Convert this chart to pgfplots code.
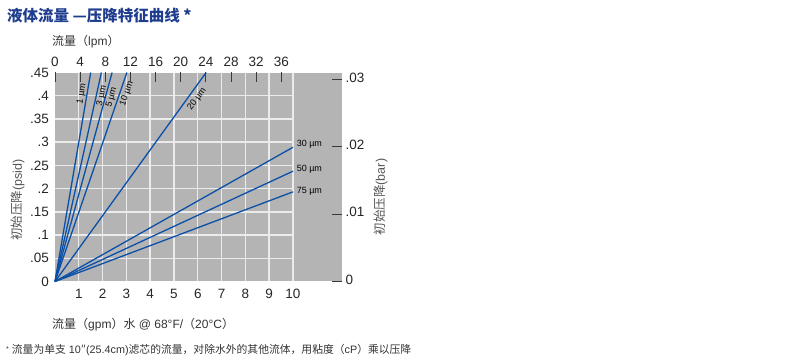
\documentclass[border=0pt]{standalone}
\usepackage{fontspec}
\setmainfont{Liberation Sans}
\newfontfamily\cjk{Noto Sans CJK SC}
\usepackage{pgfplots}
\pgfplotsset{compat=1.18}
\definecolor{bgg}{HTML}{B4B4B4}
\definecolor{ln}{HTML}{0A50A8}
\definecolor{ttl}{HTML}{1F3D8F}
\definecolor{grd}{HTML}{EBEBEB}
\definecolor{tk}{HTML}{3A3A3A}
\definecolor{lbl}{HTML}{333333}
\definecolor{ylbl}{HTML}{555555}
\newcommand{\tickfont}{\fontsize{13.5}{16}\selectfont}
\newcommand{\smallfont}{\fontsize{9}{10}\selectfont}
\begin{document}
\begin{tikzpicture}
\useasboundingbox (0pt,0pt) rectangle (790pt,364pt);
% title
\node[anchor=west, text=ttl, inner sep=0pt, font=\cjk\bfseries\fontsize{15.5}{18}\selectfont] at (7pt,348pt) {液体流量 —压降特征曲线 *};
% axis labels
\node[anchor=west, inner sep=0pt, text=lbl, font=\fontsize{12}{14}\selectfont] at (52pt,322pt) {{\cjk 流量（}lpm{\cjk ）}};
\node[anchor=west, inner sep=0pt, text=lbl, font=\fontsize{12}{14}\selectfont] at (52pt,39pt) {{\cjk 流量（}gpm{\cjk ）水} @ 68°F/{\cjk （}20°C{\cjk ）}};
\node[anchor=west, inner sep=0pt, text=lbl, font=\fontsize{10.8}{12}\selectfont] at (6pt,14pt) {\raisebox{2pt}{\scriptsize *} {\cjk 流量为单支} 10{\cjk ″}(25.4cm){\cjk 滤芯的流量，对除水外的其他流体，用粘度（}cP{\cjk ）乘以压降}};
\node[rotate=90, inner sep=0pt, text=ylbl, font=\fontsize{12.5}{14}\selectfont] at (18pt,164pt) {{\cjk 初始压降}(psid)};
\node[rotate=90, inner sep=0pt, text=ylbl, font=\fontsize{12.5}{14}\selectfont] at (381pt,167pt) {{\cjk 初始压降}(bar)};

% main axis
\begin{axis}[
  at={(55pt,82.5pt)}, anchor=south west,
  scale only axis, width=287pt, height=209pt,
  xmin=0, xmax=12.06, ymin=0, ymax=0.45,
  axis background/.style={fill=bgg},
  axis line style={draw=none},
  xtick={1,2,3,4,5,6,7,8,9,10},
  xticklabels={1,2,3,4,5,6,7,8,9,10},
  ytick={0,0.05,0.1,0.15,0.2,0.25,0.3,0.35,0.4,0.45},
  yticklabels={0,.05,.1,.15,.2,.25,.3,.35,.4,.45},
  xtick pos=bottom, ytick pos=left,
  major tick length=0pt,
  tick label style={font=\tickfont, text=black!85},
  xticklabel style={yshift=-4pt},
  yticklabel style={xshift=-2.5pt},
  clip=false,
]
\pgfplotsinvokeforeach{0.05,0.1,0.15,0.2,0.25,0.3,0.35,0.4}{
  \draw[grd, line width=1.4pt] (axis cs:0,#1) -- (axis cs:10,#1);
}
\pgfplotsinvokeforeach{1,2,3,4,5,6,7,8,9,10}{
  \draw[grd, line width=1.4pt] (axis cs:#1,0) -- (axis cs:#1,0.45);
}
% filter curves (psid vs gpm)
\addplot[ln, line width=1.3pt] coordinates {(0,0) (1.50,0.45)};
\addplot[ln, line width=1.3pt] coordinates {(0,0) (1.95,0.45)};
\addplot[ln, line width=1.3pt] coordinates {(0,0) (2.40,0.45)};
\addplot[ln, line width=1.3pt] coordinates {(0,0) (3.02,0.45)};
\addplot[ln, line width=1.3pt] coordinates {(0,0) (6.35,0.45)};
\addplot[ln, line width=1.3pt] coordinates {(0,0) (10,0.289)};
\addplot[ln, line width=1.3pt] coordinates {(0,0) (10,0.2375)};
\addplot[ln, line width=1.3pt] coordinates {(0,0) (10,0.193)};
% labels
\node[rotate=80.3, font=\smallfont, inner sep=0pt] at (axis cs:1.13,0.404) {1 µm};
\node[rotate=77.4, font=\smallfont, inner sep=0pt] at (axis cs:1.97,0.400) {3 µm};
\node[rotate=74.6, font=\smallfont, inner sep=0pt] at (axis cs:2.38,0.396) {5 µm};
\node[rotate=71.0, font=\smallfont, inner sep=0pt] at (axis cs:3.02,0.405) {10 µm};
\node[rotate=54.2, font=\smallfont, inner sep=0pt] at (axis cs:5.97,0.392) {20 µm};
\node[anchor=west, font=\smallfont, inner sep=0pt] at (axis cs:10.15,0.295) {30 µm};
\node[anchor=west, font=\smallfont, inner sep=0pt] at (axis cs:10.15,0.241) {50 µm};
\node[anchor=west, font=\smallfont, inner sep=0pt] at (axis cs:10.15,0.195) {75 µm};
\end{axis}

% top axis (lpm)
\begin{axis}[
  at={(55pt,82.5pt)}, anchor=south west,
  scale only axis, width=287pt, height=209pt,
  xmin=0, xmax=12.06, ymin=0, ymax=0.45,
  axis x line*=top, axis y line=none,
  axis line style={draw=none},
  xtick={0,1.0568,2.1136,3.1704,4.2272,5.2840,6.3408,7.3976,8.4544,9.5112},
  xticklabels={0,4,8,12,16,20,24,28,32,36},
  tick align=inside, major tick length=10pt,
  xtick style={draw=tk, line width=1pt},
  xticklabel style={font=\tickfont, text=black!85, yshift=2pt},
]
\end{axis}

% right axis (bar)
\begin{axis}[
  at={(55pt,82.5pt)}, anchor=south west,
  scale only axis, width=287pt, height=209pt,
  xmin=0, xmax=12.06, ymin=0, ymax=0.031026,
  axis y line*=right, axis x line=none,
  axis line style={draw=none},
  scaled y ticks=false,
  ytick={0,0.01,0.02,0.03},
  yticklabels={0,.01,.02,.03},
  tick align=inside, major tick length=10pt,
  ytick style={draw=tk, line width=1pt},
  yticklabel style={font=\tickfont, text=black!85, xshift=0pt, yshift=2pt},
]
\end{axis}
\end{tikzpicture}
\end{document}
